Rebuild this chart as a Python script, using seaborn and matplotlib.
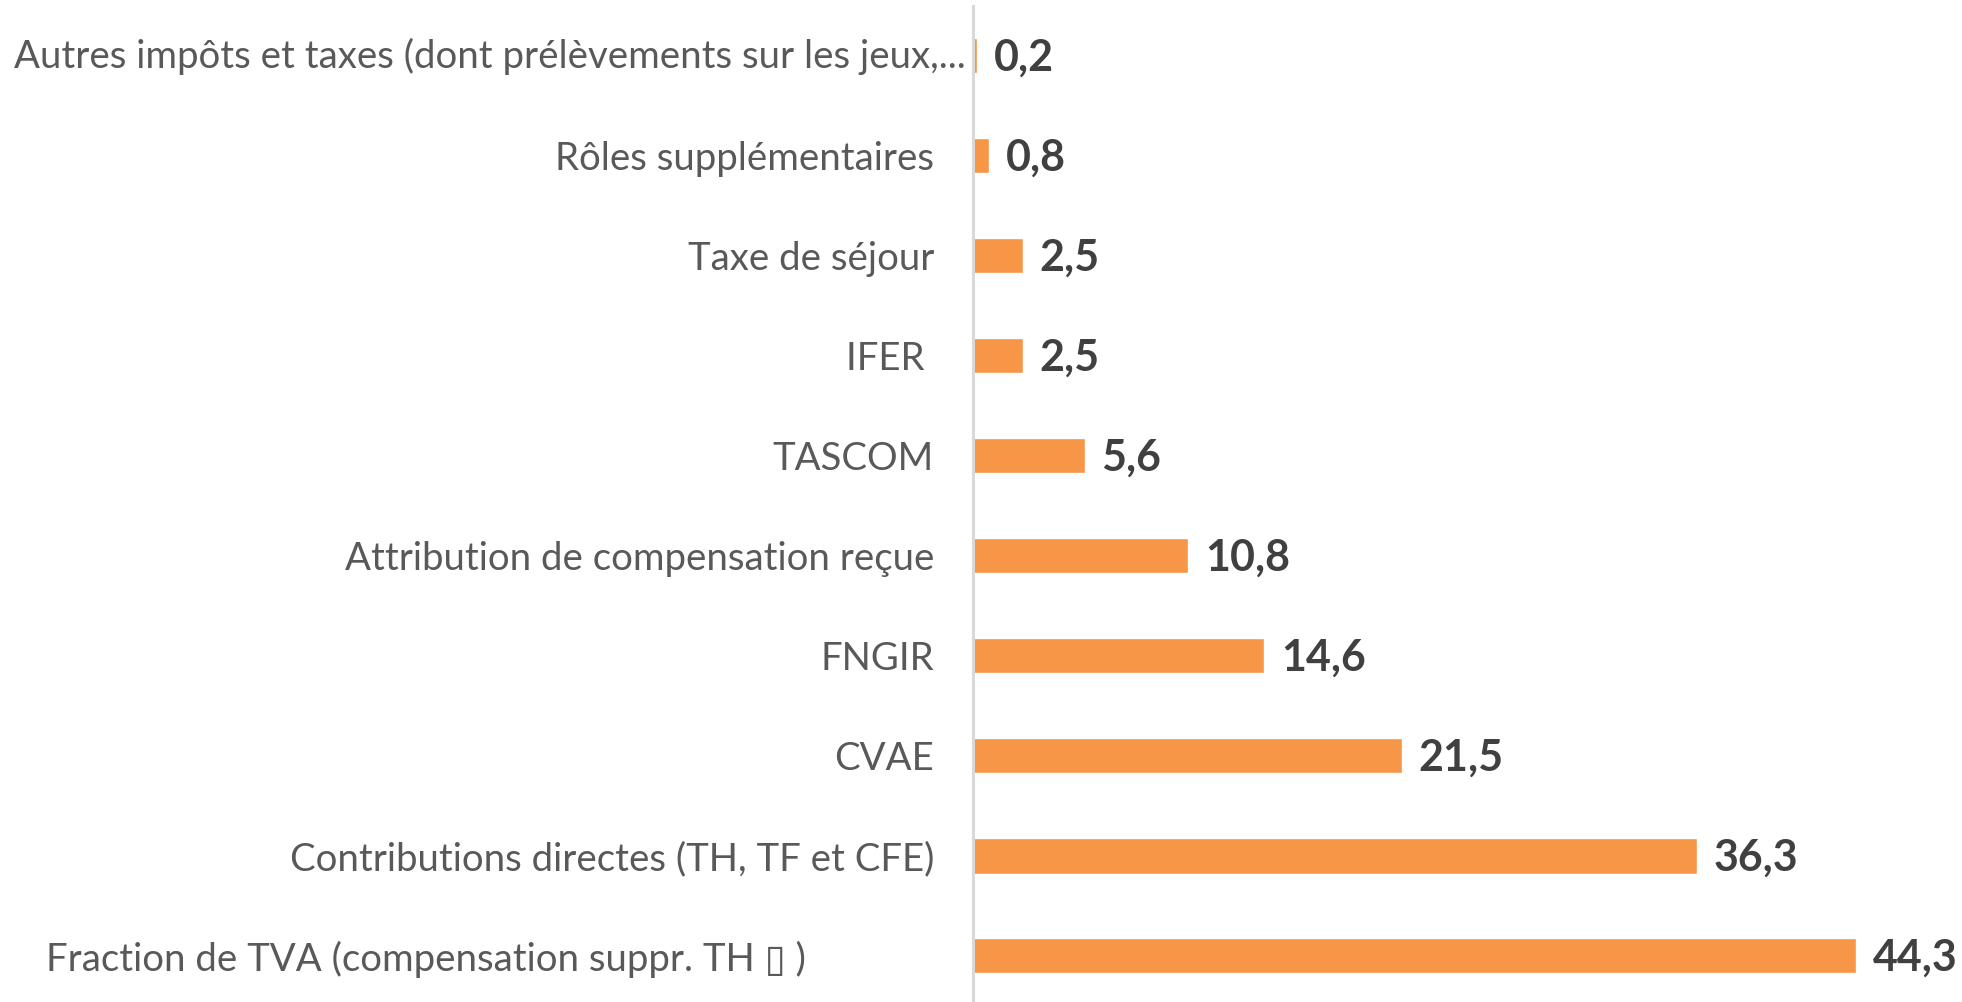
import matplotlib
matplotlib.use('Agg')
import matplotlib.pyplot as plt
import pandas as pd
import seaborn as sns

categories = [
    "Autres impôts et taxes (dont prélèvements sur les jeux,...",
    "Rôles supplémentaires",
    "Taxe de séjour",
    "IFER ",
    "TASCOM",
    "Attribution de compensation reçue",
    "FNGIR",
    "CVAE",
    "Contributions directes (TH, TF et CFE)",
    "Fraction de TVA (compensation suppr. TH \u25af )             ",
]
values = [0.2, 0.8, 2.5, 2.5, 5.6, 10.8, 14.6, 21.5, 36.3, 44.3]
value_labels = ["0,2", "0,8", "2,5", "2,5", "5,6", "10,8", "14,6", "21,5", "36,3", "44,3"]

df = pd.DataFrame({"categorie": categories, "valeur": values})

sns.set_theme(style="white")
plt.rcParams['font.family'] = ['Lato', 'DejaVu Sans']

fig = plt.figure(figsize=(19.62, 10.02), dpi=100)
ax = fig.add_axes([973 / 1962, -4 / 1002, 1 - 973 / 1962, 1000 / 1002])

sns.barplot(data=df, x="valeur", y="categorie", orient="h", color="#F79646",
            saturation=1, width=0.35, ax=ax)

ax.set_xlim(0, 49.6)
ax.set_ylim(9.5, -0.5)
ax.set_xlabel("")
ax.set_ylabel("")
ax.set_xticks([])
for side in ["top", "right", "bottom"]:
    ax.spines[side].set_visible(False)
ax.spines["left"].set_color("#D9D9D9")
ax.spines["left"].set_linewidth(2.2)
ax.tick_params(axis="y", length=0, pad=28, labelsize=27.6, labelcolor="#595959")

# the first (truncated) label runs right up to the axis line
ax.set_yticks(range(len(categories)), [""] + categories[1:])
ax.annotate(categories[0], (0, 0), xytext=(-5, 0), textcoords="offset points",
            ha="right", va="center", fontsize=27.6, color="#595959",
            annotation_clip=False)

for i, (v, lab) in enumerate(zip(values, value_labels)):
    ax.annotate(lab, (v, i), xytext=(12, -1), textcoords="offset points",
                ha="left", va="center", fontsize=31, fontweight="bold",
                color="#404040", annotation_clip=False)

fig.savefig("out.png", dpi=100)
